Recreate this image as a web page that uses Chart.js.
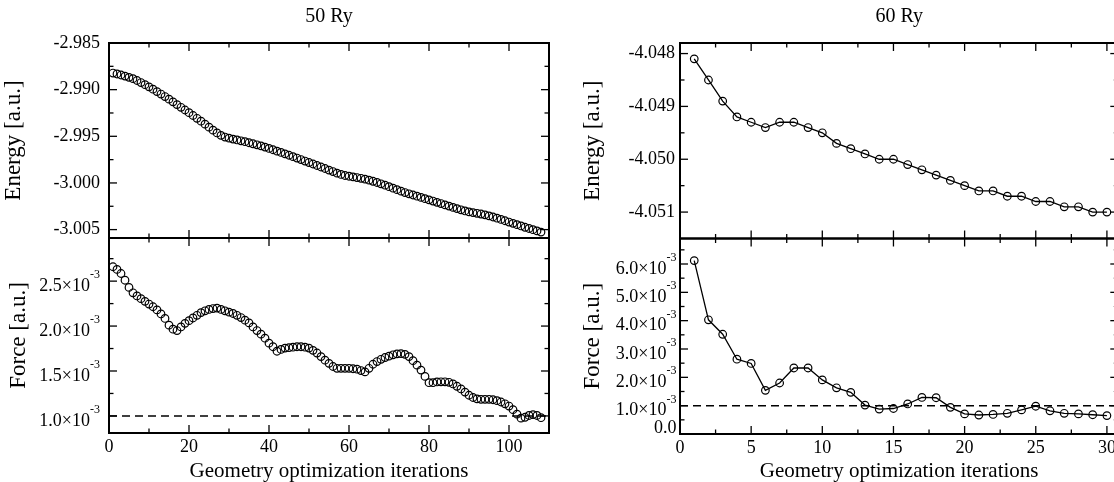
<!DOCTYPE html>
<html>
<head>
<meta charset="utf-8">
<script src="https://cdn.jsdelivr.net/npm/chart.js@4.4.1/dist/chart.umd.min.js"></script>
<style>
  html, body { margin: 0; padding: 0; background: #fff; overflow: hidden; width: 1114px; height: 482px; }
  canvas { position: absolute; top: 0; }
  #c50 { left: 0; }
  #c60 { left: 557px; }
</style>
</head>
<body>
<canvas id="c50" width="557" height="482"></canvas>
<canvas id="c60" width="600" height="482"></canvas>
<script>
// ---- 50 Ry run: total energy (a.u.) per geometry step ----
const energy50 = [
  -2.98822, -2.98832, -2.98843, -2.98855, -2.98868, -2.98882, -2.98902, -2.98924, -2.98947, -2.98970,
  -2.98995, -2.99021, -2.99047, -2.99074, -2.99102, -2.99131, -2.99160, -2.99189, -2.99218, -2.99247,
  -2.99277, -2.99307, -2.99338, -2.99370, -2.99402, -2.99434, -2.99464, -2.99490, -2.99508, -2.99520,
  -2.99530, -2.99539, -2.99548, -2.99558, -2.99569, -2.99580, -2.99591, -2.99603, -2.99616, -2.99630,
  -2.99644, -2.99659, -2.99673, -2.99688, -2.99703, -2.99718, -2.99733, -2.99749, -2.99765, -2.99781,
  -2.99797, -2.99813, -2.99829, -2.99845, -2.99862, -2.99878, -2.99895, -2.99909, -2.99920, -2.99928,
  -2.99935, -2.99942, -2.99950, -2.99959, -2.99970, -2.99982, -2.99995, -3.00009, -3.00024, -3.00040,
  -3.00056, -3.00072, -3.00088, -3.00103, -3.00116, -3.00129, -3.00142, -3.00155, -3.00168, -3.00181,
  -3.00194, -3.00208, -3.00221, -3.00235, -3.00248, -3.00262, -3.00275, -3.00288, -3.00300, -3.00310,
  -3.00318, -3.00325, -3.00333, -3.00342, -3.00353, -3.00365, -3.00378, -3.00391, -3.00405, -3.00419,
  -3.00433, -3.00447, -3.00461, -3.00475, -3.00488, -3.00501, -3.00514, -3.00527
];
// ---- 50 Ry run: max force, in units of 10^-3 a.u. ----
const force50 = [
  2.660, 2.630, 2.585, 2.510, 2.430, 2.370, 2.335, 2.305, 2.275, 2.245,
  2.215, 2.180, 2.135, 2.085, 2.010, 1.965, 1.950, 1.990, 2.030, 2.060,
  2.090, 2.120, 2.150, 2.170, 2.185, 2.195, 2.200, 2.185, 2.170, 2.155,
  2.140, 2.120, 2.095, 2.065, 2.035, 1.990, 1.950, 1.910, 1.865, 1.810,
  1.770, 1.720, 1.740, 1.755, 1.760, 1.765, 1.770, 1.770, 1.765, 1.755,
  1.730, 1.700, 1.660, 1.620, 1.585, 1.550, 1.530, 1.530, 1.530, 1.530,
  1.525, 1.520, 1.505, 1.490, 1.530, 1.575, 1.605, 1.630, 1.650, 1.665,
  1.680, 1.690, 1.693, 1.685, 1.660, 1.615, 1.565, 1.510, 1.440, 1.370,
  1.370, 1.378, 1.380, 1.380, 1.374, 1.356, 1.330, 1.300, 1.265, 1.230,
  1.205, 1.190, 1.185, 1.185, 1.185, 1.180, 1.170, 1.155, 1.135, 1.110,
  1.070, 1.020, 0.975, 0.985, 1.005, 1.015, 1.005, 0.980
];

// ---- 60 Ry run ----
const energy60 = [
  -4.0481, -4.0485, -4.0489, -4.0492, -4.0493, -4.0494, -4.0493, -4.0493, -4.0494, -4.0495,
  -4.0497, -4.0498, -4.0499, -4.0500, -4.0500, -4.0501, -4.0502, -4.0503, -4.0504, -4.0505,
  -4.0506, -4.0506, -4.0507, -4.0507, -4.0508, -4.0508, -4.0509, -4.0509, -4.0510, -4.0510
];
const force60 = [
  6.12, 4.03, 3.52, 2.64, 2.49, 1.54, 1.80, 2.33, 2.33, 1.91,
  1.63, 1.47, 1.02, 0.88, 0.90, 1.06, 1.29, 1.28, 0.94, 0.71,
  0.67, 0.69, 0.73, 0.85, 0.98, 0.82, 0.73, 0.71, 0.68, 0.65
];

// Convergence threshold on the force (10^-3 a.u.)
const forceThreshold = 1.0;
const forceExponent = '-3';

// Axis ticks
const xTicks50 = [0, 20, 40, 60, 80, 100];
const xMinor50 = [10, 30, 50, 70, 90, 110];
const eTicks50 = [-2.985, -2.990, -2.995, -3.000, -3.005];
const eMinor50 = [-2.9875, -2.9925, -2.9975, -3.0025];
const fTicks50 = [1.0, 1.5, 2.0, 2.5];
const fMinor50 = [1.25, 1.75, 2.25, 2.75];

const xTicks60 = [0, 5, 10, 15, 20, 25, 30];
const xMinor60 = [2.5, 7.5, 12.5, 17.5, 22.5, 27.5];
const eTicks60 = [-4.048, -4.049, -4.050, -4.051];
const eMinor60 = [-4.0485, -4.0495, -4.0505];
const fTicks60 = [0.0, 1.0, 2.0, 3.0, 4.0, 5.0, 6.0];
const fMinor60 = [0.5, 1.5, 2.5, 3.5, 4.5, 5.5, 6.5];

const FONT = "'Liberation Serif', 'Times New Roman', serif";
const MAJOR = 8, MINOR = 4.5;

function framePlugin(p) {
  return {
    id: 'frame' + p.id,
    afterDraw(chart) {
      const { ctx, chartArea: a, scales } = chart;
      const x = scales.x, yE = scales.yE, yF = scales.yF;
      ctx.save();
      ctx.strokeStyle = '#000';
      ctx.fillStyle = '#000';
      const seg = (x1, y1, x2, y2) => { ctx.beginPath(); ctx.moveTo(x1, y1); ctx.lineTo(x2, y2); ctx.stroke(); };

      // inward tick marks on all four sides of each panel
      ctx.lineWidth = 1.3;
      const panels = [[yE, p.eTicks, p.eMinor], [yF, p.fTicks, p.fMinor]];
      for (const [s, maj, min] of panels) {
        for (const [vals, len] of [[p.xTicks, MAJOR], [p.xMinor, MINOR]]) {
          for (const v of vals) {
            const px = x.getPixelForValue(v);
            seg(px, s.top, px, s.top + len);
            seg(px, s.bottom, px, s.bottom - len);
          }
        }
        for (const [vals, len] of [[maj, MAJOR], [min, MINOR]]) {
          for (const v of vals) {
            const py = s.getPixelForValue(v);
            seg(a.left, py, a.left + len, py);
            seg(a.right, py, a.right - len, py);
          }
        }
      }

      // panel frames
      ctx.lineWidth = 2;
      for (const s of [yE, yF]) ctx.strokeRect(a.left, s.top, a.right - a.left, s.bottom - s.top);

      // force tick labels with a raised exponent
      const xEnd = a.left - p.fLabelGap;
      ctx.textAlign = 'right';
      ctx.textBaseline = 'middle';
      for (const v of p.fTicks) {
        const py = yF.getPixelForValue(v);
        if (v === 0) {
          ctx.font = `18px ${FONT}`;
          ctx.fillText(v.toFixed(1), xEnd, py - 6);
          continue;
        }
        ctx.font = `12px ${FONT}`;
        const w = ctx.measureText(forceExponent).width;
        ctx.fillText(forceExponent, xEnd, py - 6);
        ctx.font = `18px ${FONT}`;
        ctx.fillText(v.toFixed(1) + '\u00D710', xEnd - w, py + 5);
      }

      // column title
      ctx.textAlign = 'center';
      ctx.textBaseline = 'alphabetic';
      ctx.font = `20px ${FONT}`;
      ctx.fillText(p.title, (a.left + a.right) / 2, 22);
      ctx.restore();
    }
  };
}

function buildChart(p) {
  const iters = p.energy.map((_, i) => i + 1);
  const marker = {
    pointStyle: 'circle', pointRadius: 3.8, pointHoverRadius: 3.8,
    pointBorderWidth: 1.2, pointBorderColor: '#000', pointBackgroundColor: 'rgba(0,0,0,0)',
    borderColor: '#000', borderWidth: 1.3, showLine: p.lines, tension: 0
  };
  const xTitleFont = { family: FONT, size: 21, lineHeight: 1 };
  const yTitleFont = { family: FONT, size: 23, lineHeight: 1 };
  return new Chart(document.getElementById(p.canvas), {
    type: 'scatter',
    data: {
      datasets: [
        Object.assign({ label: 'Energy', yAxisID: 'yE', data: p.energy.map((v, i) => ({ x: iters[i], y: v })) }, marker),
        Object.assign({ label: 'Force', yAxisID: 'yF', data: p.force.map((v, i) => ({ x: iters[i], y: v })) }, marker),
        {
          label: 'Threshold', yAxisID: 'yF', showLine: true, pointRadius: 0,
          borderColor: '#000', borderWidth: 1.5, borderDash: [8, 5],
          data: [{ x: 0, y: forceThreshold }, { x: p.xMax, y: forceThreshold }]
        }
      ]
    },
    options: {
      responsive: false,
      animation: false,
      devicePixelRatio: 1,
      layout: { padding: { top: 43, left: 0, right: p.padRight, bottom: 0 } },
      plugins: { legend: { display: false }, tooltip: { enabled: false }, title: { display: false } },
      scales: {
        x: {
          type: 'linear', position: 'bottom', min: 0, max: p.xMax,
          afterBuildTicks: s => { s.ticks = p.xTicks.map(v => ({ value: v })); },
          afterFit: s => { s.height = p.xAxisH; },
          grid: { display: false, drawTicks: false }, border: { display: false },
          ticks: { font: { family: FONT, size: 18 }, color: '#000', padding: 3, maxRotation: 0, autoSkip: false, callback: v => String(v) },
          title: { display: true, text: 'Geometry optimization iterations', color: '#000', font: xTitleFont, padding: { top: 0, bottom: 0 } }
        },
        // stacked left axes: the later one in this list is placed above
        yF: {
          type: 'linear', position: 'left', stack: 'col', stackWeight: 1,
          min: p.fMin, max: p.fMax,
          afterBuildTicks: s => { s.ticks = p.fTicks.map(v => ({ value: v })); },
          afterFit: s => { s.width = p.yAxisW; },
          grid: { display: false, drawTicks: false }, border: { display: false },
          ticks: { display: false },
          title: { display: true, text: 'Force [a.u.]', color: '#000', font: yTitleFont, padding: { top: p.fTitlePad, bottom: 0 } }
        },
        yE: {
          type: 'linear', position: 'left', stack: 'col', stackWeight: 1,
          min: p.eMin, max: p.eMax,
          afterBuildTicks: s => { s.ticks = p.eTicks.map(v => ({ value: v })); },
          afterFit: s => { s.width = p.yAxisW; },
          grid: { display: false, drawTicks: false }, border: { display: false },
          ticks: { font: { family: FONT, size: 18 }, color: '#000', padding: p.eLabelGap, autoSkip: false, callback: v => v.toFixed(3) },
          title: { display: true, text: 'Energy [a.u.]', color: '#000', font: yTitleFont, padding: { top: p.eTitlePad, bottom: 0 } }
        }
      }
    },
    plugins: [framePlugin(p)]
  });
}

buildChart({
  id: '50', canvas: 'c50', title: '50 Ry', lines: false,
  energy: energy50, force: force50,
  xMax: 110, xTicks: xTicks50, xMinor: xMinor50,
  eMin: -3.0059, eMax: -2.985, eTicks: eTicks50, eMinor: eMinor50,
  fMin: 0.81, fMax: 2.98, fTicks: fTicks50, fMinor: fMinor50,
  yAxisW: 109, xAxisH: 49, padRight: 8,
  eLabelGap: 9, fLabelGap: 9, eTitlePad: 2, fTitlePad: 7.7
});

buildChart({
  id: '60', canvas: 'c60', title: '60 Ry', lines: true,
  energy: energy60, force: force60,
  xMax: 30.8, xTicks: xTicks60, xMinor: xMinor60,
  eMin: -4.0515, eMax: -4.0478, eTicks: eTicks60, eMinor: eMinor60,
  fMin: 0, fMax: 6.9, fTicks: fTicks60, fMinor: fMinor60,
  yAxisW: 123, xAxisH: 48, padRight: 38.7,
  eLabelGap: 5, fLabelGap: 3.5, eTitlePad: 24.7, fTitlePad: 24.7
});
</script>
</body>
</html>
